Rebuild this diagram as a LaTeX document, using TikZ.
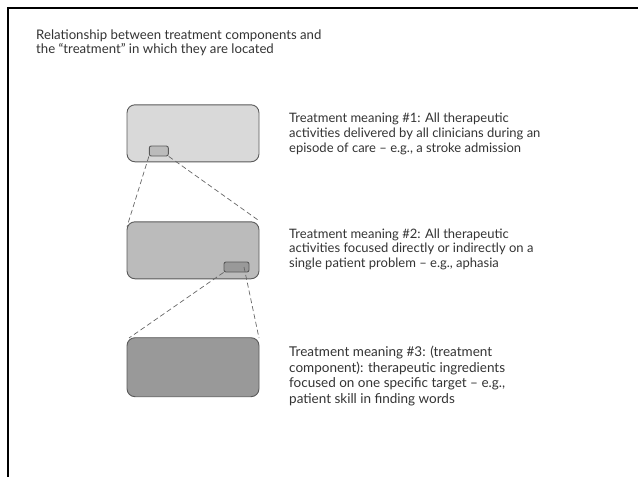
\documentclass[tikz,border=0pt]{standalone}
\usepackage{fontspec}
\setmainfont{Lato}
\usepackage{tikz}
\usetikzlibrary{positioning}
\definecolor{boxline}{HTML}{5A5A5A}
\definecolor{shadeA}{HTML}{D9D9D9}
\definecolor{shadeB}{HTML}{BBBBBB}
\definecolor{shadeC}{HTML}{999999}
\definecolor{txt}{HTML}{333333}

\begin{document}
\begin{tikzpicture}[x=1pt, y=-1pt,
  level/.style={draw=boxline, line width=0.9pt, rounded corners=8pt,
    minimum width=132pt, minimum height=57pt, inner sep=0pt},
  part/.style={draw=boxline, line width=0.9pt, rounded corners=2pt,
    minimum width=19pt, minimum height=10pt, inner sep=0pt},
  zoomline/.style={draw=black!60, line width=0.7pt, dash pattern=on 5pt off 3pt},
  note/.style={anchor=north west, inner sep=0pt, align=left, text=txt,
    font=\fontsize{13}{14.7}\selectfont}
]
\useasboundingbox (0,0) rectangle (638,477);
\draw[line width=2pt] (8,477) -- (8,8) -- (638,8);

\node[note, font=\fontsize{13.2}{14.2}\selectfont] (title) at (36,29.5)
  {Relationship between treatment components and\\
   the ``treatment'' in which they are located};

\node[level, fill=shadeA] (episode) at (193,133.3) {};
\node[level, fill=shadeB] (problem) at (193,250.3) {};
\node[level, fill=shadeC, minimum height=59pt] (component) at (193,367.2) {};
\node[part, fill=shadeB] (sub1) at (158.8,151) {};
\node[part, fill=shadeC, minimum width=25pt] (sub2) at (236.5,267) {};

\node[note] (mean1) at (289,113)
  {Treatment meaning \#1: All therapeutic\\
   activities delivered by all clinicians during an\\
   episode of care -- e.g., a stroke admission};
\node[note] (mean2) at (289,228.3)
  {Treatment meaning \#2: All therapeutic\\
   activities focused directly or indirectly on a\\
   single patient problem -- e.g., aphasia};
\node[note, font=\fontsize{13.5}{15.6}\selectfont] (mean3) at (289,346)
  {Treatment meaning \#3: (treatment\\
   component): therapeutic ingredients\\
   focused on one specific target -- e.g.,\\
   patient skill in finding words};

\coordinate (p1) at (127,226.7);
\coordinate (p2) at (259,220.7);
\coordinate (p3) at (129,338);
\coordinate (p4) at (259,338);
\coordinate (s2) at (244,267);
\draw[zoomline] (sub1.south west) -- (p1);
\draw[zoomline] (sub1.south east) -- (p2);
\draw[zoomline] (sub2.south west) -- (p3);
\draw[zoomline] (s2) -- (p4);
\end{tikzpicture}
\end{document}
